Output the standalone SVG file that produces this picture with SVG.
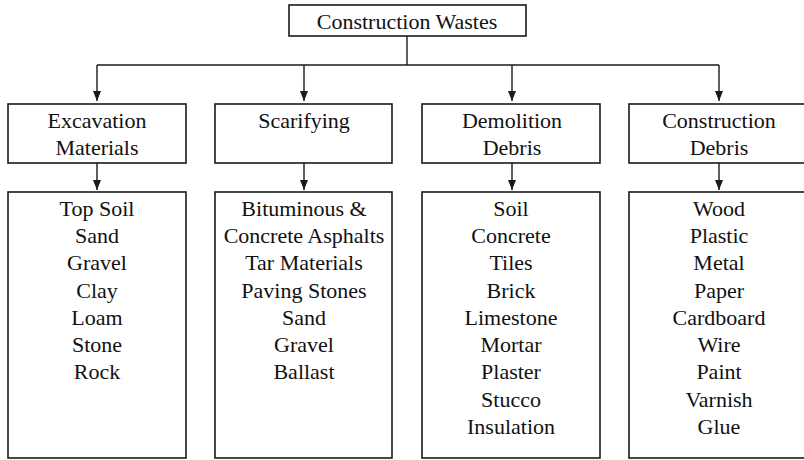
<svg xmlns="http://www.w3.org/2000/svg" width="804" height="460" viewBox="0 0 804 460">
<defs>
<style>
.box{fill:#fff;stroke:#1a1a1a;stroke-width:1.6}
.t{font-family:"Liberation Serif","Times New Roman",serif;font-size:22px;fill:#111;text-anchor:middle}
.c{fill:none;stroke:#1a1a1a;stroke-width:1.4}
</style>
<marker id="ah" viewBox="0 0 10 8" refX="10" refY="4" markerWidth="10" markerHeight="8" markerUnits="userSpaceOnUse" orient="auto">
<path d="M0,0 L10,4 L0,8 z" fill="#1a1a1a"/>
</marker>
</defs>
<rect width="804" height="460" fill="#fff"/>
<g id="connectors">
<path class="c" d="M407,36 V65"/>
<path class="c" d="M97,65 H719"/>
<path class="c" d="M97,65 V101" marker-end="url(#ah)"/>
<path class="c" d="M304,65 V101" marker-end="url(#ah)"/>
<path class="c" d="M512,65 V101" marker-end="url(#ah)"/>
<path class="c" d="M719,65 V101" marker-end="url(#ah)"/>
<path class="c" d="M97,163 V190" marker-end="url(#ah)"/>
<path class="c" d="M304,163 V190" marker-end="url(#ah)"/>
<path class="c" d="M512,163 V190" marker-end="url(#ah)"/>
<path class="c" d="M719,163 V190" marker-end="url(#ah)"/>
</g>
<g id="root">
<rect class="box" x="289" y="5" width="237" height="31"/>
<text class="t" x="407" y="29">Construction Wastes</text>
</g>
<g id="excavation">
<rect class="box" x="8" y="104" width="178" height="59"/>
<text class="t" x="97" y="128">Excavation</text>
<text class="t" x="97" y="155">Materials</text>
</g>
<g id="scarifying">
<rect class="box" x="215" y="104" width="177" height="59"/>
<text class="t" x="304" y="128">Scarifying</text>
</g>
<g id="demolition">
<rect class="box" x="422" y="104" width="178" height="59"/>
<text class="t" x="512" y="128">Demolition</text>
<text class="t" x="512" y="155">Debris</text>
</g>
<g id="construction">
<rect class="box" x="629" y="104" width="180" height="59"/>
<text class="t" x="719" y="128">Construction</text>
<text class="t" x="719" y="155">Debris</text>
</g>
<g id="excavation-list">
<rect class="box" x="8" y="192" width="178" height="266"/>
<text class="t" x="97" y="216">Top Soil</text>
<text class="t" x="97" y="243">Sand</text>
<text class="t" x="97" y="270">Gravel</text>
<text class="t" x="97" y="298">Clay</text>
<text class="t" x="97" y="325">Loam</text>
<text class="t" x="97" y="352">Stone</text>
<text class="t" x="97" y="379">Rock</text>
</g>
<g id="scarifying-list">
<rect class="box" x="215" y="192" width="177" height="266"/>
<text class="t" x="304" y="216">Bituminous &amp;</text>
<text class="t" x="304" y="243">Concrete Asphalts</text>
<text class="t" x="304" y="270">Tar Materials</text>
<text class="t" x="304" y="298">Paving Stones</text>
<text class="t" x="304" y="325">Sand</text>
<text class="t" x="304" y="352">Gravel</text>
<text class="t" x="304" y="379">Ballast</text>
</g>
<g id="demolition-list">
<rect class="box" x="422" y="192" width="178" height="266"/>
<text class="t" x="511" y="216">Soil</text>
<text class="t" x="511" y="243">Concrete</text>
<text class="t" x="511" y="270">Tiles</text>
<text class="t" x="511" y="298">Brick</text>
<text class="t" x="511" y="325">Limestone</text>
<text class="t" x="511" y="352">Mortar</text>
<text class="t" x="511" y="379">Plaster</text>
<text class="t" x="511" y="407">Stucco</text>
<text class="t" x="511" y="434">Insulation</text>
</g>
<g id="construction-list">
<rect class="box" x="629" y="192" width="180" height="266"/>
<text class="t" x="719" y="216">Wood</text>
<text class="t" x="719" y="243">Plastic</text>
<text class="t" x="719" y="270">Metal</text>
<text class="t" x="719" y="298">Paper</text>
<text class="t" x="719" y="325">Cardboard</text>
<text class="t" x="719" y="352">Wire</text>
<text class="t" x="719" y="379">Paint</text>
<text class="t" x="719" y="407">Varnish</text>
<text class="t" x="719" y="434">Glue</text>
</g>
</svg>
